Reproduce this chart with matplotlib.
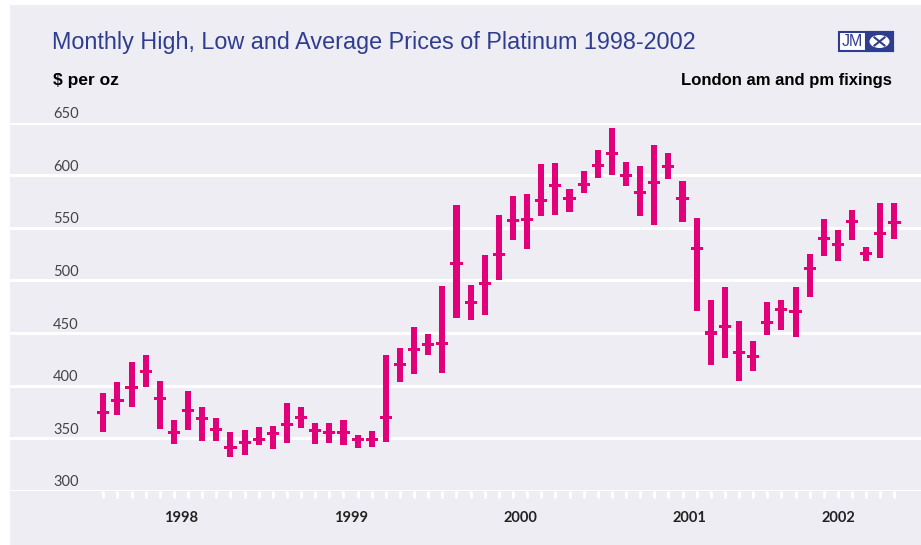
import matplotlib
matplotlib.use('Agg')
import matplotlib.pyplot as plt
import matplotlib.patches as mpatches
import matplotlib.transforms as mtransforms
import numpy as np

# monthly platinum prices, Jan 1998 - Sep 2002 ($/oz)
highs = [393, 403, 422, 429, 404, 367, 395, 380, 369, 356, 358, 361,
         362, 383, 380, 364, 364, 367, 353, 357, 429, 436, 456, 449,
         495, 572, 496, 524, 562, 580, 582, 611, 612, 587, 604, 624,
         645, 613, 609, 629, 621, 595, 559, 481, 494, 461, 442, 479,
         481, 494, 525, 558, 548, 567, 532, 574, 574]
lows = [356, 372, 380, 399, 359, 344, 358, 347, 347, 332, 334, 343,
        340, 345, 360, 344, 345, 343, 341, 342, 346, 403, 411, 429,
        412, 464, 462, 467, 500, 538, 530, 561, 562, 565, 583, 597,
        600, 590, 561, 553, 596, 556, 471, 420, 426, 404, 414, 448,
        453, 446, 484, 523, 518, 538, 518, 521, 539]
avgs = [374, 386, 398, 413, 388, 355, 376, 369, 358, 341, 346, 349,
        354, 363, 370, 357, 355, 355, 349, 349, 370, 420, 434, 439,
        440, 516, 479, 497, 525, 557, 558, 576, 590, 578, 591, 609,
        621, 600, 584, 593, 608, 578, 530, 450, 456, 431, 428, 460,
        472, 470, 511, 540, 534, 556, 526, 545, 555]
years = ['1998', '1999', '2000', '2001', '2002']
year_centres = [5.5, 17.5, 29.5, 41.5, 52]
y_ticks = [300, 350, 400, 450, 500, 550, 600, 650]

bar_col = '#E2007A'
bg = '#EEEDF4'
title_col = '#2E3D8F'

W, H = 921, 545
fig = plt.figure(figsize=(W / 100, H / 100), dpi=100)
fig.patch.set_facecolor('white')
fig.patches.append(mpatches.Rectangle((10 / W, 0), 1, 1 - 5 / H, transform=fig.transFigure,
                                      facecolor=bg, edgecolor='none', zorder=-10))

ax = fig.add_axes([10 / W, (H - 490.7) / H, 1 - 10 / W, (490.7 - 122.7) / H])
ax.set_facecolor('none')
for s in ax.spines.values():
    s.set_visible(False)

x = np.arange(len(highs))
highs = np.array(highs); lows = np.array(lows); avgs = np.array(avgs)
ax.bar(x, highs - lows, bottom=lows, width=0.43, color=bar_col, zorder=3)
ax.bar(x, 2.9, bottom=avgs - 1.45, width=0.86, color=bar_col, zorder=3)

ax.set_xlim(-6.605, 57.88)
ax.set_ylim(300, 650)

ax.set_yticks(y_ticks)
ax.yaxis.grid(True, color='white', linewidth=2.2, zorder=1)
ax.tick_params(axis='y', length=0, labelleft=False)
for v in y_ticks:
    ax.text(-3.56, v + 8, str(v), ha='left', va='center', fontsize=10.5,
            family='Lato', color='#444444')

ax.set_xticks(x)
ax.tick_params(axis='x', length=5, width=2, color='white', direction='out', labelbottom=False)

trans = mtransforms.blended_transform_factory(ax.transData, ax.transAxes)
for yr, c in zip(years, year_centres):
    ax.text(c, -0.075, yr, transform=trans, ha='center', va='center', fontsize=10.5,
            family='Lato', fontweight='bold', color='#222222')

fig.text(52 / W, 1 - 42 / H, 'Monthly High, Low and Average Prices of Platinum 1998-2002',
         ha='left', va='center', fontsize=16.8, family='Liberation Sans', color=title_col)
fig.text(53 / W, 1 - 81 / H, '$ per oz', ha='left', va='center', fontsize=12.5,
         family='Liberation Sans', fontweight='bold', color='black')
fig.text(892 / W, 1 - 81 / H, 'London am and pm fixings', ha='right', va='center', fontsize=12,
         family='Liberation Sans', fontweight='bold', color='black')

# JM logo
lx0, ly0, lw_, lh_ = 839, 32, 54, 19
fig.patches.append(mpatches.Rectangle((lx0 / W, 1 - (ly0 + lh_) / H), lw_ / W, lh_ / H,
                                      transform=fig.transFigure, facecolor='white',
                                      edgecolor='#2E3D8F', linewidth=1.5))
fig.patches.append(mpatches.Rectangle(((lx0 + 27) / W, 1 - (ly0 + lh_) / H), 27 / W, lh_ / H,
                                      transform=fig.transFigure, facecolor='#2E3D8F',
                                      edgecolor='#2E3D8F', linewidth=1.5))
fig.text((lx0 + 13.5) / W, 1 - (ly0 + lh_ / 2) / H, 'JM', ha='center', va='center',
         fontsize=11.5, family='Liberation Sans', color='#2E3D8F')
fig.patches.append(mpatches.Ellipse(((lx0 + 40.5) / W, 1 - (ly0 + lh_ / 2) / H), 20 / W, 13 / H,
                                    transform=fig.transFigure, facecolor='white', edgecolor='none'))
cx, cy = lx0 + 40.5, ly0 + lh_ / 2
for dx in (-5, 5):
    fig.add_artist(plt.Line2D([(cx - dx) / W, (cx + dx) / W], [1 - (cy - 4) / H, 1 - (cy + 4) / H],
                              transform=fig.transFigure, color='#2E3D8F', linewidth=1.5))

fig.savefig('out.png', dpi=100, facecolor=fig.get_facecolor())
